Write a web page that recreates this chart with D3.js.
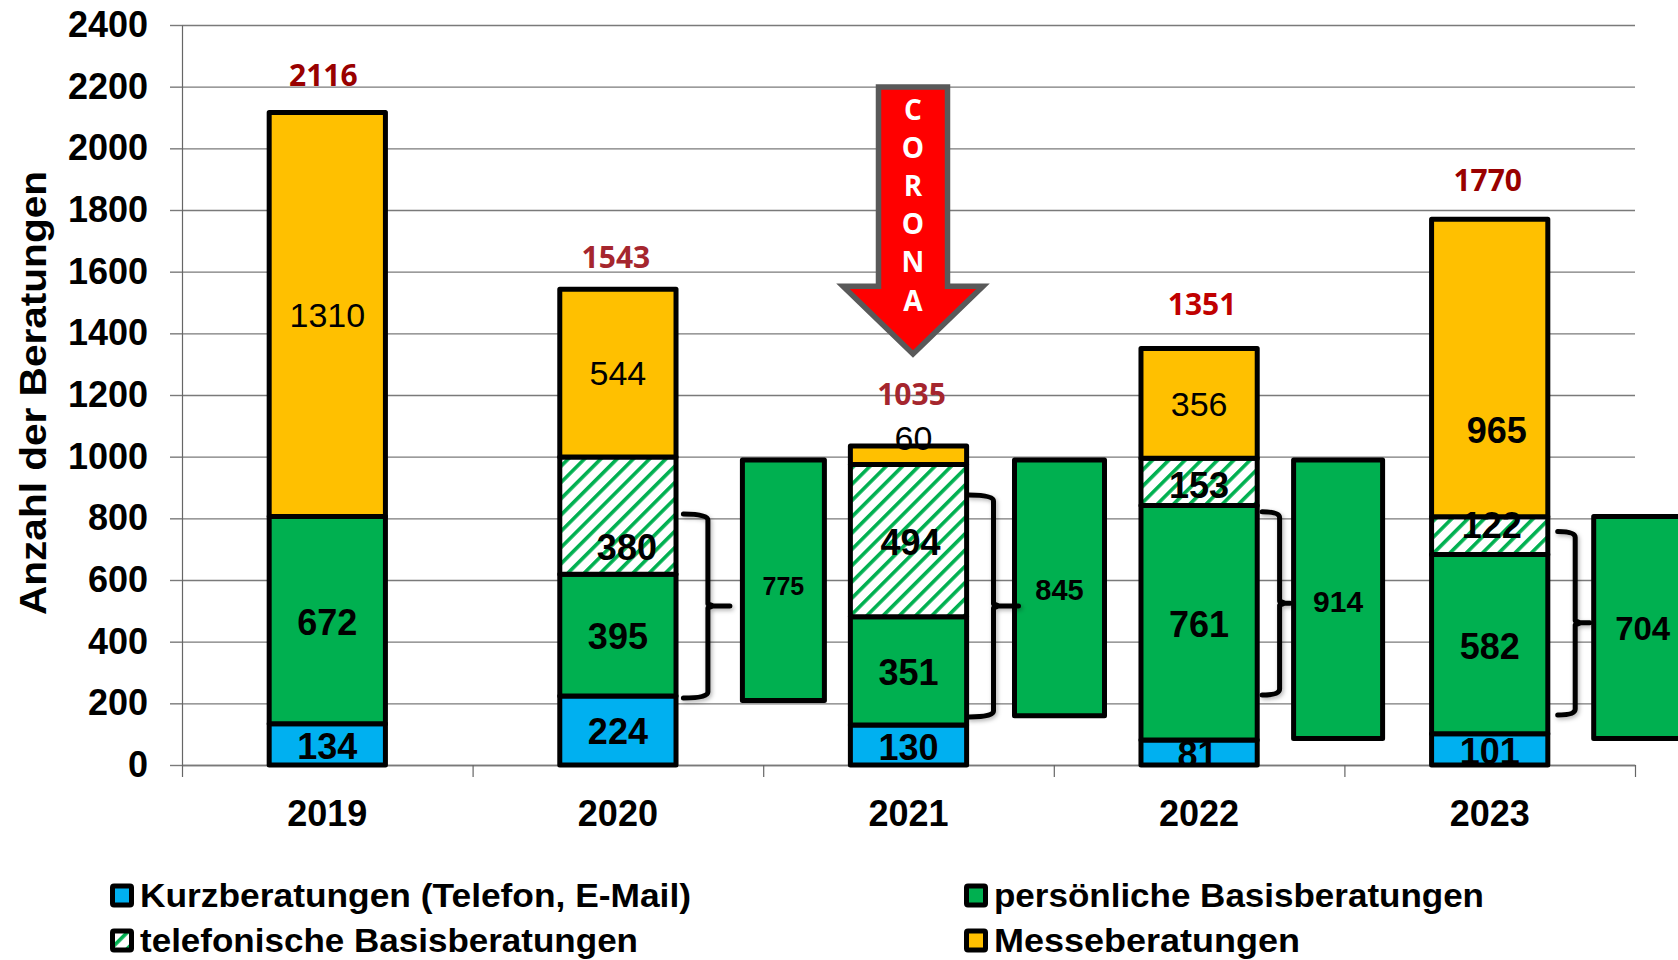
<!DOCTYPE html>
<html>
<head>
<meta charset="utf-8">
<script src="https://cdn.jsdelivr.net/npm/d3@7"></script>
<style>
  html, body { margin: 0; padding: 0; background: #fff; }
  svg { display: block; }
  text { font-family: "Liberation Sans", Arial, sans-serif; fill: #000; }
</style>
</head>
<body>
<div id="chart"></div>
<script>
// values
const years = ["2019", "2020", "2021", "2022", "2023"];
const kurz = [134, 224, 130, 81, 101];
const persoenlich = [672, 395, 351, 761, 582];
const telefonisch = [0, 380, 494, 153, 122];
const messe = [1310, 544, 60, 356, 965];
const totals = [2116, 1543, 1035, 1351, 1770];
const yTicks = d3.range(0, 2401, 200);

// the floating boxes right of the bars (sum of both Basisberatungen)
const sumYears = ["2020", "2021", "2022", "2023"];
const sumValues = [775, 845, 914, 704];
const sumBoxBottom = [209, 160, 86, 86];
const sumBoxTop = [989, 989, 989, 806];
const braceTop = [814, 876, 821, 757];
const braceBottom = [217, 156, 227, 162];
const braceMid = [516, 516, 525, 461];

const legendLabels = ["Kurzberatungen (Telefon, E-Mail)", "persönliche Basisberatungen", "telefonische Basisberatungen", "Messeberatungen"];
const corona = ["C", "O", "R", "O", "N", "A"];

const seriesKeys = ["kurz", "persoenlich", "telefonisch", "messe"];
const BLUE = "#00B0F0", GREEN = "#00B050", ORANGE = "#FFC000";

const W = 1678, H = 960;
const margin = { top: 25, right: 43, bottom: 195, left: 182 };

const svg = d3.select("#chart").append("svg").attr("width", W).attr("height", H);

const defs = svg.append("defs");
const hatch = defs.append("pattern")
  .attr("id", "hatch")
  .attr("patternUnits", "userSpaceOnUse")
  .attr("width", 11.5).attr("height", 11.5)
  .attr("patternTransform", "rotate(45)");
hatch.append("rect").attr("width", 11.5).attr("height", 11.5).attr("fill", "#fff");
hatch.append("rect").attr("width", 3.6).attr("height", 11.5).attr("fill", GREEN);

const shadow = defs.append("filter").attr("id", "braceShadow")
  .attr("x", "-30%").attr("y", "-10%").attr("width", "160%").attr("height", "120%");
shadow.append("feDropShadow")
  .attr("dx", 1.5).attr("dy", 2).attr("stdDeviation", 2)
  .attr("flood-color", "#000").attr("flood-opacity", 0.3);

const fills = { kurz: BLUE, persoenlich: GREEN, telefonisch: "url(#hatch)", messe: ORANGE };

const x = d3.scaleBand()
  .domain(years)
  .range([margin.left, W - margin.right])
  .paddingInner(0.6)
  .paddingOuter(0.3);

const xEdges = d3.scaleLinear().domain([0, years.length]).range([margin.left, W - margin.right]);

const y = d3.scaleLinear().domain([0, 2400]).range([H - margin.bottom, margin.top]);

// grid lines
svg.append("g")
  .attr("transform", `translate(${margin.left},0)`)
  .call(d3.axisLeft(y).tickValues(yTicks).tickSize(-(W - margin.left - margin.right)).tickFormat(""))
  .call(g => g.select(".domain").remove())
  .call(g => g.selectAll("line").attr("stroke", "#7a7a7a").attr("stroke-width", 1.4));

// y axis
svg.append("g")
  .attr("transform", `translate(${margin.left},0)`)
  .call(d3.axisLeft(y).tickValues(yTicks).tickFormat(d3.format("d")).tickSize(12).tickSizeOuter(0).tickPadding(22))
  .call(g => g.select(".domain").attr("stroke", "#666").attr("stroke-width", 1.2))
  .call(g => g.selectAll("line").attr("stroke", "#7a7a7a").attr("stroke-width", 1.4))
  .call(g => g.selectAll("text")
    .style("font-size", "36px").style("font-weight", "bold").attr("fill", "#000"));

// tick marks between the years
svg.append("g")
  .attr("transform", `translate(0,${H - margin.bottom})`)
  .call(d3.axisBottom(xEdges).tickValues(d3.range(0, years.length + 1)).tickSize(12).tickSizeOuter(0).tickFormat(""))
  .call(g => g.select(".domain").attr("stroke", "#7a7a7a").attr("stroke-width", 1.4))
  .call(g => g.selectAll("line").attr("stroke", "#666").attr("stroke-width", 1.2));

// year labels
svg.append("g")
  .attr("transform", `translate(0,${H - margin.bottom})`)
  .call(d3.axisBottom(x).tickSize(0).tickPadding(35))
  .call(g => g.select(".domain").remove())
  .call(g => g.selectAll("text")
    .style("font-size", "36px").style("font-weight", "bold").attr("fill", "#000"));

// y title
svg.append("text")
  .attr("transform", "translate(46,393) rotate(-90)")
  .attr("text-anchor", "middle")
  .attr("textLength", 444)
  .attr("lengthAdjust", "spacingAndGlyphs")
  .style("font-size", "37px")
  .style("font-weight", "bold")
  .text("Anzahl der Beratungen");

// stacked bars
const rows = years.map((year, i) => ({
  year, kurz: kurz[i], persoenlich: persoenlich[i], telefonisch: telefonisch[i], messe: messe[i]
}));
const stacked = d3.stack().keys(seriesKeys)(rows);

svg.append("g").selectAll("g")
  .data(stacked)
  .join("g")
  .attr("fill", d => fills[d.key])
  .selectAll("rect")
  .data(d => d.filter(p => p[1] > p[0]))
  .join("rect")
  .attr("x", d => x(d.data.year))
  .attr("y", d => y(d[1]))
  .attr("width", x.bandwidth())
  .attr("height", d => y(d[0]) - y(d[1]))
  .attr("stroke", "#000")
  .attr("stroke-width", 5)
  .attr("stroke-linejoin", "round");

// labels sit by hand in the original, so these are nudges from the segment middle
const labelNudge = {
  kurz: [[0, 2], [0, 1], [0, 2], [-1.5, 2], [0, 2]],
  persoenlich: [[0, 2], [0, 1], [0, 2], [0, 2], [0, 2]],
  telefonisch: [[0, 0], [9, 32], [2, 2], [0, 4], [2, -10]],
  messe: [[0, 1], [0, 0], [5, -17], [0, 1], [7, 62]]
};
const regularLabels = [1310, 544, 60, 356];

const labelGroup = svg.append("g").attr("text-anchor", "middle");
stacked.forEach(layer => {
  layer.forEach((p, i) => {
    const v = p[1] - p[0];
    if (!v) return;
    const n = labelNudge[layer.key][i];
    const regular = regularLabels.includes(v);
    labelGroup.append("text")
      .attr("x", x(p.data.year) + x.bandwidth() / 2 + n[0])
      .attr("y", y((p[0] + p[1]) / 2) + n[1])
      .attr("dy", "0.35em")
      .style("font-size", regular ? "34px" : "36px")
      .style("font-weight", regular ? "normal" : "bold")
      .text(v);
  });
});

// totals above the bars
const totalColors = ["#990000", "#A5262E", "#A5262E", "#C00000", "#990000"];
const totalNudge = [[-4, -27], [-2, -21], [3, -41], [3, -33], [-2, -28]];
svg.append("g").selectAll("text")
  .data(totals)
  .join("text")
  .attr("x", (d, i) => x(years[i]) + x.bandwidth() / 2 + totalNudge[i][0])
  .attr("y", (d, i) => y(d) + totalNudge[i][1])
  .attr("text-anchor", "middle")
  .style("fill", (d, i) => totalColors[i])
  .style("font-family", '"Open Sans", sans-serif')
  .style("font-size", "30px")
  .style("font-weight", "bold")
  .text(d => d);

// sum boxes and braces, placed relative to the year they belong to
const sumBoxDx = [124.5, 106, 94.5, 104];
const sumBoxW = [82, 90, 89, 96];
const sumFont = [25, 29, 30, 33];
const sumTextDx = [0, 0, 0, 1];
const sumTextDy = [6, 2, 2, 1];
const braceX = [[65.5, 90, 112], [60.5, 85, 110], [63, 80.5, 91], [68, 85.5, 100]];

sumYears.forEach((year, i) => {
  const c = x(year) + x.bandwidth() / 2;
  const left = c + sumBoxDx[i];

  svg.append("rect")
    .attr("x", left)
    .attr("y", y(sumBoxTop[i]))
    .attr("width", sumBoxW[i])
    .attr("height", y(sumBoxBottom[i]) - y(sumBoxTop[i]))
    .attr("fill", GREEN)
    .attr("stroke", "#000")
    .attr("stroke-width", 5)
    .attr("stroke-linejoin", "round");

  svg.append("text")
    .attr("x", left + sumBoxW[i] / 2 + sumTextDx[i])
    .attr("y", y((sumBoxTop[i] + sumBoxBottom[i]) / 2) + sumTextDy[i])
    .attr("dy", "0.35em")
    .attr("text-anchor", "middle")
    .style("font-size", sumFont[i] + "px")
    .style("font-weight", "bold")
    .text(sumValues[i]);

  const [x0, x1, x2] = braceX[i].map(d => c + d);
  const yT = y(braceTop[i]), yB = y(braceBottom[i]), yM = y(braceMid[i]);
  const path = d3.path();
  path.moveTo(x0, yT);
  path.quadraticCurveTo(x1, yT, x1, yT + 6);
  path.lineTo(x1, yM - 2);
  path.lineTo(x1 + 5, yM);
  path.lineTo(x2, yM);
  path.lineTo(x1 + 5, yM);
  path.lineTo(x1, yM + 2);
  path.lineTo(x1, yB - 6);
  path.quadraticCurveTo(x1, yB, x0, yB);
  svg.append("path")
    .attr("d", path.toString())
    .attr("fill", "none")
    .attr("stroke", "#000")
    .attr("stroke-width", 5)
    .attr("stroke-linecap", "round")
    .attr("stroke-linejoin", "round")
    .attr("filter", "url(#braceShadow)");
});

// CORONA arrow, anchored on the 2021 bar
const arrowX = x("2021") + x.bandwidth() / 2 + 4.5;
const arrowLine = d3.line();
const arrowValues = [[-34.5, 2199], [34.5, 2199], [34.5, 1553], [70, 1553], [0, 1333], [-70, 1553], [-34.5, 1553]];
svg.append("path")
  .attr("d", arrowLine.x(d => arrowX + d[0]).y(d => y(d[1]))(arrowValues) + "Z")
  .attr("fill", "#FF0000")
  .attr("stroke", "#595959")
  .attr("stroke-width", 5.5);

svg.append("g").selectAll("text")
  .data(corona)
  .join("text")
  .attr("x", arrowX)
  .attr("y", (d, i) => y(2126 - i * 124))
  .attr("dy", "0.36em")
  .attr("text-anchor", "middle")
  .style("fill", "#fff")
  .style("font-family", '"Open Sans", sans-serif')
  .style("font-size", "28px")
  .style("font-weight", "bold")
  .text(d => d);

// legend
const legendCols = [110, 964];
const legendRows = [907, 952];
const legendLens = [551, 490, 498, 306];
const legendFills = [BLUE, GREEN, "url(#hatch)", ORANGE];

legendLabels.forEach((label, i) => {
  const lx = legendCols[i % 2], ly = legendRows[Math.floor(i / 2)];
  svg.append("rect")
    .attr("x", lx + 2.5).attr("y", ly - 21)
    .attr("width", 19).attr("height", 19)
    .attr("rx", 1.5)
    .attr("fill", legendFills[i])
    .attr("stroke", "#000")
    .attr("stroke-width", 5);
  svg.append("text")
    .attr("x", lx + 30)
    .attr("y", ly)
    .attr("textLength", legendLens[i])
    .attr("lengthAdjust", "spacingAndGlyphs")
    .style("font-size", "33px")
    .style("font-weight", "bold")
    .text(label);
});
</script>
</body>
</html>
